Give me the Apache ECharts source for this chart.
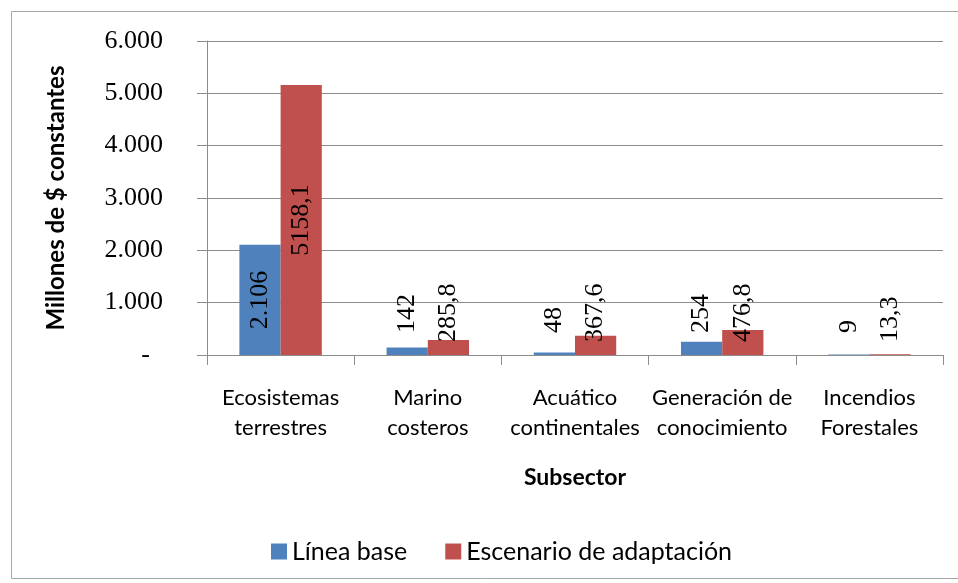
<!DOCTYPE html>
<html>
<head>
<meta charset="utf-8">
<script src="https://cdn.jsdelivr.net/npm/echarts@6/dist/echarts.min.js"></script>
<style>
  html, body { margin: 0; padding: 0; background: #fff; }
  #chart { width: 958px; height: 583px; }
</style>
</head>
<body>
<div id="chart"></div>
<script>
// categorías del eje X
const subsectores = [
  'Ecosistemas\nterrestres',
  'Marino\ncosteros',
  'Acuático\ncontinentales',
  'Generación de\nconocimiento',
  'Incendios\nForestales'
]
// Línea base (millones de $ constantes)
const lineaBase = [2106, 142, 48, 254, 9]
// Escenario de adaptación
const escenario = [5158.1, 285.8, 367.6, 476.8, 13.3]
// marcas del eje Y
const yTicks = [0, 1000, 2000, 3000, 4000, 5000, 6000]

const gris = '#8c8c8c'
const sansFont = 'Lato, "Liberation Sans", sans-serif'
const serifFont = '"Liberation Serif", "Times New Roman", serif'

// separador de miles con punto
const fmtMiles = v => String(Math.round(v)).replace(/\B(?=(\d{3})+(?!\d))/g, '.')
// decimal con coma
const fmtDecimal = v => v.toFixed(1).replace('.', ',')

// etiquetas: dentro de la barra si es alta, encima si es pequeña
const buildData = (values, smallDistance) => values.map(v => {
  if (v > 1000) {
    return { value: v, label: { position: 'inside', align: 'center', verticalAlign: 'middle' } }
  }
  return { value: v, label: { position: 'insideBottom', distance: smallDistance, align: 'left', verticalAlign: 'middle' } }
})

const baseLabel = {
  show: true,
  rotate: 90,
  color: '#000',
  fontFamily: serifFont,
  fontSize: 26
}

const chart = echarts.init(document.getElementById('chart'))

chart.setOption({
  backgroundColor: '#fff',
  animation: false,
  graphic: [{
    type: 'rect',
    shape: { x: 11.5, y: 11.5, width: 950, height: 567 },
    style: { fill: 'none', stroke: '#a6a6a6', lineWidth: 1 },
    silent: true
  }],
  grid: { left: 207, right: 15, top: 41, bottom: 228 },
  legend: {
    left: 266,
    top: 534,
    itemWidth: 16,
    itemHeight: 16,
    itemGap: 38,
    icon: 'rect',
    textStyle: { fontFamily: sansFont, fontSize: 25, color: '#000' },
    data: ['Línea base', 'Escenario de adaptación']
  },
  xAxis: {
    type: 'category',
    data: subsectores,
    name: 'Subsector',
    nameLocation: 'middle',
    nameGap: 111,
    nameTextStyle: { fontFamily: sansFont, fontSize: 23, fontWeight: 'bold', color: '#000' },
    axisLine: { lineStyle: { color: gris } },
    axisTick: { show: true, length: 10, lineStyle: { color: gris } },
    axisLabel: {
      interval: 0,
      margin: 28,
      fontFamily: sansFont,
      fontSize: 22,
      lineHeight: 30,
      color: '#000'
    }
  },
  yAxis: {
    type: 'value',
    min: yTicks[0],
    max: yTicks[yTicks.length - 1],
    interval: 1000,
    name: 'Millones de $ constantes',
    nameLocation: 'middle',
    nameGap: 139,
    nameTextStyle: { fontFamily: sansFont, fontSize: 24, fontWeight: 'bold', color: '#000' },
    axisLine: { show: true, lineStyle: { color: gris } },
    axisTick: { show: true, length: 10, lineStyle: { color: gris } },
    splitLine: { show: true, lineStyle: { color: gris } },
    axisLabel: {
      margin: 44,
      fontFamily: serifFont,
      fontSize: 26,
      color: '#000',
      formatter: v => (v === 0 ? '-  ' : fmtMiles(v))
    }
  },
  series: [
    {
      name: 'Línea base',
      type: 'bar',
      barGap: '0%',
      barCategoryGap: '44%',
      itemStyle: { color: '#4f81bd' },
      label: Object.assign({}, baseLabel, { formatter: p => fmtMiles(p.value) }),
      data: buildData(lineaBase, 22)
    },
    {
      name: 'Escenario de adaptación',
      type: 'bar',
      itemStyle: { color: '#c0504d' },
      label: Object.assign({}, baseLabel, { formatter: p => fmtDecimal(p.value) }),
      data: buildData(escenario, 13)
    }
  ]
})
</script>
</body>
</html>
